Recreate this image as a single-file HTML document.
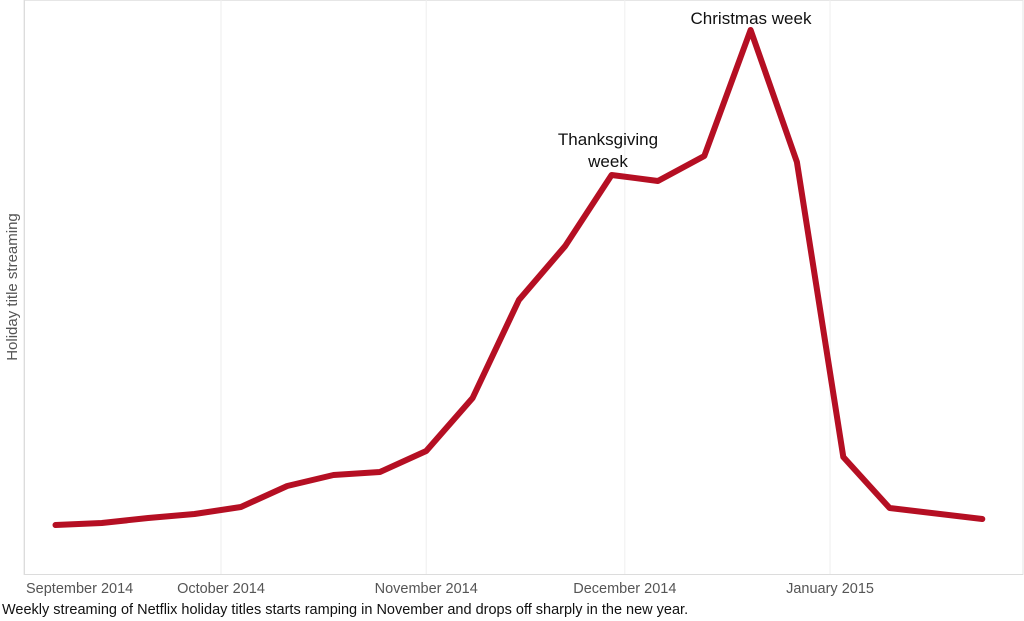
<!DOCTYPE html>
<html><head><meta charset="utf-8"><style>
html,body{margin:0;padding:0;background:#fff;width:1024px;height:621px;overflow:hidden;font-family:"Liberation Sans",Arial,sans-serif}
</style></head><body>
<svg id="chart" width="1024" height="621" viewBox="0 0 1024 621" xmlns="http://www.w3.org/2000/svg">
<rect x="24" y="0.5" width="999" height="574" fill="none" stroke="#e6e6e6" stroke-width="1"/>
<g id="grid"></g>
<line x1="24" y1="574.5" x2="1023" y2="574.5" stroke="#dcdcdc" stroke-width="1"/>
<line x1="24.5" y1="0" x2="24.5" y2="575" stroke="#dcdcdc" stroke-width="1"/>
<g id="xlabels"></g>
<path id="line" fill="none" stroke="#b50f23" stroke-width="6" stroke-linejoin="round" stroke-linecap="round"/>
<text transform="translate(17,287) rotate(-90)" text-anchor="middle" font-size="15" fill="#555">Holiday title streaming</text>
<text x="608" y="145" text-anchor="middle" font-size="17" fill="#111">Thanksgiving</text>
<text x="608" y="167" text-anchor="middle" font-size="17" fill="#111">week</text>
<text x="751" y="24" text-anchor="middle" font-size="17" fill="#111">Christmas week</text>
<text x="2" y="614" font-size="14.5" fill="#111">Weekly streaming of Netflix holiday titles starts ramping in November and drops off sharply in the new year.</text>
</svg>
<script>
const dates = ["2014-09-06","2014-09-13","2014-09-20","2014-09-27","2014-10-04","2014-10-11","2014-10-18","2014-10-25","2014-11-01","2014-11-08","2014-11-15","2014-11-22","2014-11-29","2014-12-06","2014-12-13","2014-12-20","2014-12-27","2015-01-03","2015-01-10","2015-01-24"];
const values = [50,52,57,61,68,89,100,103,124,177,275,329,400,394,419,545,413,118,67,56];
const tickDates = ["2014-09-01","2014-10-01","2014-11-01","2014-12-01","2015-01-01"];
const tickLabels = ["September 2014","October 2014","November 2014","December 2014","January 2015"];

const ns="http://www.w3.org/2000/svg";
const origin=Date.UTC(2014,9,1);
function x(d){const t=Date.parse(d+"T00:00:00Z");return 221+(t-origin)/86400000*6.62;}
function y(v){return 575-v;}

const grid=document.getElementById('grid');
const xl=document.getElementById('xlabels');
tickDates.forEach((d,i)=>{
  const px=x(d);
  if(i>0){
    const l=document.createElementNS(ns,'line');
    
    
    l.setAttribute('x1',px);l.setAttribute('x2',px);
    l.setAttribute('y1',0);l.setAttribute('y2',575);
    l.setAttribute('stroke','#eeeeee');l.setAttribute('stroke-width','1');
    grid.appendChild(l);
  }
  const t=document.createElementNS(ns,'text');
  
  
  t.setAttribute('x',i===0?Math.max(px,26):px);
  t.setAttribute('y',593);
  t.setAttribute('text-anchor',i===0?'start':'middle');
  t.setAttribute('font-size','14.5');
  t.setAttribute('fill','#555');
  t.textContent=tickLabels[i];
  xl.appendChild(t);
});
document.getElementById('line').setAttribute('d',dates.map((d,i)=>(i?'L':'M')+x(d).toFixed(1)+','+y(values[i]).toFixed(1)).join(' '));
</script>
</body></html>
